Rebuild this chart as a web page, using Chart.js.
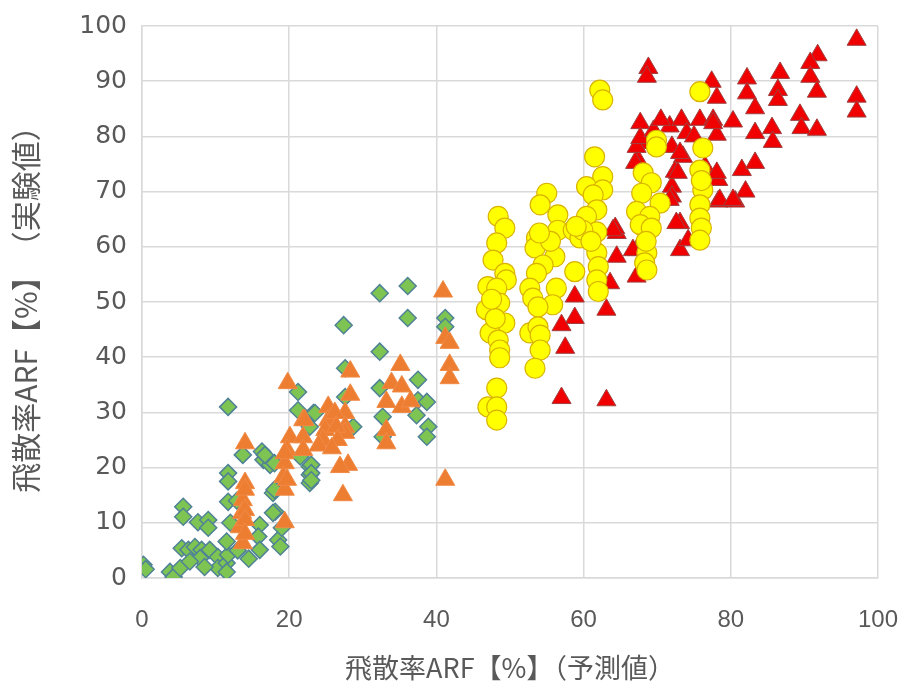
<!DOCTYPE html>
<html>
<head>
<meta charset="utf-8">
<script src="https://cdn.jsdelivr.net/npm/chart.js@4/dist/chart.umd.min.js"></script>
<style>
html,body{margin:0;padding:0;background:#fff;}
canvas{display:block;}
</style>
</head>
<body>
<canvas id="c" width="904" height="689"></canvas>
<script>
// ---- data (predicted %, experimental %) ----
const xTicks = [0, 20, 40, 60, 80, 100];
const yTicks = [0, 10, 20, 30, 40, 50, 60, 70, 80, 90, 100];
const xTitle = '飛散率ARF【%】（予測値）';
const yTitle = '飛散率ARF【%】　（実験値）';

const greenPts = [[0.2,2.4],[0.5,1.6],[3.8,1.1],[4.3,0.2],[5.2,1.8],[5.4,5.4],[6.3,5.1],[5.6,12.9],[5.6,11.1],[7.6,10.1],[9,10.5],[9,9.1],[7.2,5.6],[8.1,5.1],[7.9,3.6],[9.2,5.1],[10.3,3.8],[10.3,1.8],[11.5,2.7],[11.5,1.1],[11.7,4.2],[11.5,6.6],[11.7,19],[11.7,17.5],[11.7,13.8],[12,10],[13.7,22.3],[16.3,22.9],[16.5,21.4],[17.4,20.5],[17.8,15.4],[18.1,12],[16,9.6],[15.8,7.5],[16,5.1],[18.5,6.9],[18.8,5.7],[19,9.1],[11.7,31],[21.2,33.7],[21.2,30.4],[23.3,29.9],[22.8,27.4],[21.5,22],[22.8,20.2],[22.8,18.7],[22.8,17.2],[32.3,51.6],[36.1,52.9],[36.1,47.1],[27.4,45.8],[32.3,41],[27.6,38],[37.5,35.9],[32.3,34.4],[23.5,29.9],[37.5,32.2],[38.7,31.9],[37.3,29.5],[38.9,27.4],[38.7,25.6],[32.7,29.2],[32.7,25.6],[28.7,27.4],[27.6,32.8],[23,20.5],[23,19],[23,17.7],[41.2,47.1],[41.2,45.5],[18,20.8],[18,16],[16.7,22.3],[12.9,14],[17.8,11.8],[6.5,3],[8.5,2],[13,5],[14.5,3.5]];

const orangePts = [[14,24.4],[14,17.2],[13.7,14.1],[13.6,11.8],[13.3,9.2],[13.7,6.3],[14,16],[14,12.3],[14,10.5],[14,8],[19.8,35.3],[20.1,25.5],[19.7,23.2],[19.4,20.8],[19.2,18.3],[19.4,16],[19.4,10.1],[21.9,28.6],[21.9,25.5],[21.9,23.2],[40.9,51.9],[41.2,43.5],[41.8,42.6],[41.8,38.6],[41.8,36.2],[41.2,17.8],[35.1,38.6],[33.9,35.3],[35.3,34.7],[33.2,31.9],[35.3,31],[33.2,26.8],[33.2,24.4],[28.3,37.4],[28.3,33.2],[27.6,29.9],[27.6,27.4],[27.6,26.3],[28,20.5],[26.9,20.1],[27.3,15],[25.3,31],[25.3,28.6],[24.9,26.8],[24.6,25],[26.2,29.9],[26.4,27.4],[26.6,25],[22.1,28.6],[19.4,22.6],[19.7,17.8],[36.5,32],[24,24],[25.8,23.5]];

const yellowPts = [[48.4,65.5],[49.3,63.4],[48.2,60.7],[47.7,57.6],[49.3,55.2],[49.5,54],[47,52.8],[48.2,52.5],[48.6,49.8],[46.8,48.6],[49.3,46.2],[47.3,44.4],[48.4,43.1],[48.6,41.3],[48.6,39.9],[48.2,34.4],[47,31],[48.2,31],[48.2,28.6],[48,47],[47.5,50.5],[55,69.7],[54.1,67.6],[56.5,65.8],[56.5,63],[53.6,61.6],[53.4,59.8],[56.1,58.2],[54.5,56.7],[53.6,55.2],[56.3,52.5],[52.7,52.5],[53.1,50.7],[55.8,49.5],[53.8,49.1],[52.7,44.4],[53.8,45.5],[54.1,44],[54.1,41.3],[53.4,38],[55.5,61],[54,62.5],[58.8,55.5],[58.6,63],[59.5,61.6],[60.4,63],[62.2,88.4],[62.6,86.6],[61.5,76.3],[62.6,72.7],[60.4,70.9],[62.6,70.3],[61.3,69.4],[61.8,66.7],[60.4,65.5],[61.8,62.7],[59.9,63],[59,63.7],[61.8,58.9],[62,56.4],[61.8,54],[62,51.9],[61,61],[75.8,88.1],[69.9,79.3],[69.9,78.1],[76.2,77.9],[75.8,73.9],[76.2,70.3],[75.8,67.6],[75.8,65.2],[76,63.4],[75.8,61.2],[76,72],[68.1,73.4],[69.2,71.6],[70.4,67.9],[67.9,69.7],[67.2,66.4],[69,65.5],[67.7,64],[69.2,63.4],[68.6,58.9],[68.3,57.1],[68.6,55.8],[68.5,61]];

const redPts = [[64.5,58.2],[67.2,54.6],[58.8,51],[58.8,47.1],[57,45.8],[57.5,41.7],[63.1,48.6],[57,32.6],[63.1,32.2],[64.5,62.5],[64.3,63.4],[67.2,59.4],[73.1,64.3],[73.1,59.4],[74.2,61.2],[68.8,92.4],[68.6,90.8],[77.4,89.9],[78.1,87],[67.7,82.4],[67.7,78.8],[67.4,75.7],[71.7,81.8],[73.3,83],[75.8,83],[77.6,83],[80.3,82.7],[78.1,80.3],[74,80.6],[72,78.1],[73.5,76.3],[72.4,73.6],[72,70.9],[72,69.1],[76.5,74.5],[78.3,72.1],[78.3,68.2],[80.6,68.2],[82,70],[81.5,73.9],[83.3,75.2],[82.2,90.5],[82.2,87.8],[83.3,85.1],[83.3,80.6],[85.6,81.5],[85.7,79],[86.7,91.5],[86.4,88.4],[86.4,86.6],[89.4,83.9],[89.6,81.5],[91.8,94.7],[90.8,93.3],[90.8,90.8],[91.7,88.1],[91.7,81.2],[97.1,97.5],[97.1,87.2],[97.1,84.5],[67.2,78.1],[67,75.2],[73.1,77],[72.8,73.4],[71.7,68.5],[78.1,73.4],[78.5,68.5],[80.3,68.5],[77.6,82.4],[67.7,79.7],[72.6,64.3],[66.7,59.4],[64,63],[63.6,53.4],[69.5,81],[75,80],[70.5,83]];

const toXY = arr => arr.map(p => ({x: p[0], y: p[1]}));

new Chart(document.getElementById('c'), {
  type: 'scatter',
  data: {
    datasets: [
      {label:'yellow', data: toXY(yellowPts), order: 0, pointStyle:'circle', pointRadius:10, backgroundColor:'#FFFF00', borderColor:'#D9B300', borderWidth:1.2},
      {label:'red', data: toXY(redPts), order: 1, pointStyle:'triangle', pointRadius:11, backgroundColor:'#F00000', borderColor:'#A04040', borderWidth:1},
      {label:'orange', data: toXY(orangePts), order: 2, pointStyle:'triangle', pointRadius:11, backgroundColor:'#ED7D31', borderColor:'#F08A45', borderWidth:1},
      {label:'green', data: toXY(greenPts), order: 3, pointStyle:'rectRot', pointRadius:8.5, backgroundColor:'#7DC452', borderColor:'#4F8296', borderWidth:1.5}
    ]
  },
  options: {
    responsive: false,
    animation: false,
    events: [],
    layout: {padding: {top: 26, right: 26, left: 0, bottom: 0}},
    plugins: {legend: {display: false}, tooltip: {enabled: false}},
    scales: {
      x: {
        type: 'linear', min: 0, max: 100,
        afterBuildTicks: s => { s.ticks = xTicks.map(v => ({value: v})); },
        afterFit: s => { s.height = 111; s.paddingLeft = 0; s.paddingRight = 0; },
        grid: {color: '#D9D9D9', lineWidth: 1.5, drawTicks: false},
        border: {color: '#D9D9D9', width: 1.5},
        ticks: {padding: 28, color: '#595959', font: {family: '"Liberation Sans", Arial, sans-serif', size: 24}},
        title: {display: true, text: xTitle, color: '#595959', padding: {top: 0, bottom: 5}, font: {family: '"Noto Sans CJK JP", sans-serif', size: 27}}
      },
      y: {
        type: 'linear', min: 0, max: 100,
        afterBuildTicks: s => { s.ticks = yTicks.map(v => ({value: v})); },
        afterFit: s => { s.width = 142; s.paddingTop = 0; s.paddingBottom = 0; },
        grid: {color: '#D9D9D9', lineWidth: 1.5, drawTicks: false},
        border: {color: '#D9D9D9', width: 1.5},
        ticks: {padding: 15, color: '#595959', font: {family: '"DejaVu Sans", Verdana, sans-serif', size: 25}},
        title: {display: true, text: yTitle, color: '#595959', padding: {top: 8, bottom: 0}, font: {family: '"Noto Sans CJK JP", sans-serif', size: 30}}
      }
    }
  }
});
</script>
</body>
</html>
